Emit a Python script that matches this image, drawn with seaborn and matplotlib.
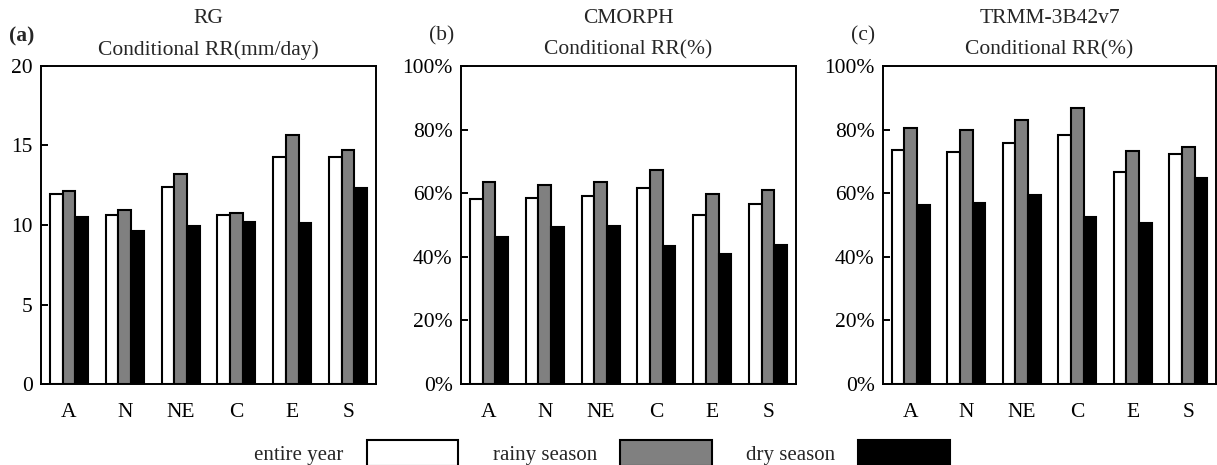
import matplotlib
matplotlib.use("Agg")
import matplotlib.pyplot as plt
import seaborn as sns
import pandas as pd

# Regions and seasons
regions = ["A", "N", "NE", "C", "E", "S"]
seasons = ["entire year", "rainy season", "dry season"]

# (a) rain gauge conditional rain rate, mm/day
rg_entire = [11.95, 10.65, 12.4, 10.65, 14.3, 14.25]
rg_rainy = [12.15, 10.95, 13.2, 10.75, 15.65, 14.7]
rg_dry = [10.5, 9.6, 9.95, 10.2, 10.1, 12.3]

# (b) CMORPH conditional rain rate, %
cm_entire = [58.2, 58.5, 59.2, 61.5, 53.3, 56.7]
cm_rainy = [63.4, 62.6, 63.4, 67.4, 59.6, 61.1]
cm_dry = [46.3, 49.3, 49.7, 43.3, 41.0, 43.7]

# (c) TRMM-3B42v7 conditional rain rate, %
tr_entire = [73.7, 72.8, 75.8, 78.4, 66.8, 72.3]
tr_rainy = [80.5, 79.8, 82.9, 86.8, 73.3, 74.6]
tr_dry = [56.4, 57.0, 59.4, 52.4, 50.7, 64.9]

panel_tags = ["(a)", "(b)", "(c)"]
products = ["RG", "CMORPH", "TRMM-3B42v7"]
subtitles = ["Conditional RR(mm/day)", "Conditional RR(%)", "Conditional RR(%)"]
y_ticks_rg = [0, 5, 10, 15, 20]
y_ticks_pct = [0, 20, 40, 60, 80, 100]

sns.set_style("white")
plt.rcParams["font.family"] = ["Liberation Serif", "DejaVu Serif"]
plt.rcParams["font.size"] = 15


def long_frame(entire, rainy, dry):
    rows = []
    for name, vals in zip(seasons, [entire, rainy, dry]):
        for r, v in zip(regions, vals):
            rows.append({"region": r, "season": name, "value": v})
    return pd.DataFrame(rows)


frames = [
    long_frame(rg_entire, rg_rainy, rg_dry),
    long_frame(cm_entire, cm_rainy, cm_dry),
    long_frame(tr_entire, tr_rainy, tr_dry),
]

palette = {"entire year": "white", "rainy season": "#808080", "dry season": "black"}

W, H = 1217, 465
fig = plt.figure(figsize=(W / 100, H / 100), dpi=100)

axes_px = [(41, 376), (461, 796), (883, 1216)]
top_px, bottom_px = 66, 384
tag_x = [22, 442, 863]

for i, ((x0, x1), df) in enumerate(zip(axes_px, frames)):
    ax = fig.add_axes([x0 / W, 1 - bottom_px / H, (x1 - x0) / W, (bottom_px - top_px) / H])
    sns.barplot(
        data=df, x="region", y="value", hue="season", order=regions,
        hue_order=seasons, palette=palette, edgecolor="black", linewidth=1.5,
        width=0.68, ax=ax, legend=(i == 0), errorbar=None,
    )
    if i == 0:
        ax.set_ylim(0, 20)
        ax.set_yticks(y_ticks_rg)
        ax.set_yticklabels([str(t) for t in y_ticks_rg])
        handles, labels = ax.get_legend_handles_labels()
        ax.get_legend().remove()
    else:
        ax.set_ylim(0, 100)
        ax.set_yticks(y_ticks_pct)
        ax.set_yticklabels([f"{t}%" for t in y_ticks_pct])
    ax.set_xlim(-0.5, len(regions) - 0.5)
    ax.set_xlabel("")
    ax.set_ylabel("")
    for sp in ax.spines.values():
        sp.set_visible(True)
        sp.set_color("black")
        sp.set_linewidth(1.4)
    ax.tick_params(axis="y", direction="in", length=5, width=1.4, left=True,
                   pad=6, labelsize=15.5, colors="black")
    ax.tick_params(axis="x", length=0, pad=14, labelsize=15.5, colors="black")

    ax.text(0.5, 1 + 16 / (bottom_px - top_px), subtitles[i], transform=ax.transAxes,
            ha="center", va="center", fontsize=15.5)
    ax.text(0.5, 1 + 47 / (bottom_px - top_px), products[i], transform=ax.transAxes,
            ha="center", va="center", fontsize=15.5)
    fig.text(tag_x[i] / W, 1 - 36 / H, panel_tags[i], ha="center", va="center",
             fontsize=15.5, fontweight="bold" if i == 0 else "normal")

leg = fig.legend(
    handles, labels, loc="center", bbox_to_anchor=(602 / W, 1 - 453 / H),
    ncol=3, frameon=False, markerfirst=False, handlelength=4.4,
    handleheight=1.5, handletextpad=1.1, columnspacing=1.65, fontsize=15,
)

fig.savefig("out.png", dpi=100)
